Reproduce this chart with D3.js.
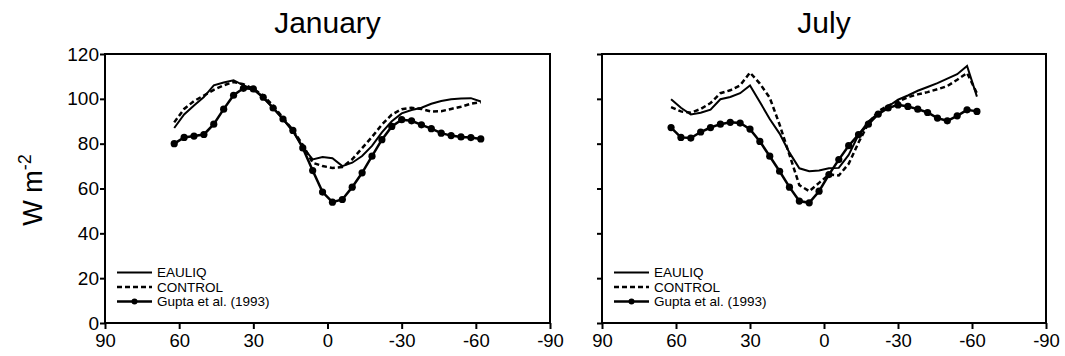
<!DOCTYPE html>
<html><head><meta charset="utf-8">
<script src="https://cdn.jsdelivr.net/npm/d3@7"></script>
<style>body{margin:0;background:#fff}svg{display:block}text{font-family:"Liberation Sans",Arial,Helvetica,sans-serif;fill:#000}</style>
</head><body><svg id="c" width="1065" height="356"></svg>
<script>
const lats = [62,58,54,50,46,42,38,34,30,26,22,18,14,10,6,2,-2,-6,-10,-14,-18,-22,-26,-30,-34,-38,-42,-46,-50,-54,-58,-62];
const xTicks = [90,60,30,0,-30,-60,-90];
const yTicks = [0,20,40,60,80,100,120];
const panelTitles = ["January","July"];
const seriesNames = ["EAULIQ","CONTROL","Gupta et al. (1993)"];

const janEauliq = [87,93,97,100.8,106,107.3,108.3,106,104.3,100.5,96,91,85.5,78.5,73,74,73.5,70,71.5,74.5,79,85,90,93.5,95,96,97.8,99,99.8,100.2,100.3,98.8];
const janControl = [89.5,95.5,99,101.5,104,106,107.5,106.5,104.5,101.5,97,91.5,86,79.5,71.5,70,69.2,69.6,73,78,83,88.5,93,95.4,96,95.5,94.3,94.5,95.5,96.5,97.8,98.5];
const janGupta = [80,82.8,83.4,84.1,88.7,95.4,101.6,104.7,104.4,100.7,95.9,91,85.9,78.1,68,58.4,53.9,55.1,60.6,67,74.4,81.8,87.7,90.7,90.2,88.4,86.7,84.7,83.6,83,82.7,82.1];

const julEauliq = [99.8,96,93,93.8,95.2,99.8,100.8,102.5,106,98.6,91,84.5,76,69,67.7,68,69,69.2,75,84,89.9,93.6,96.6,99.6,101.5,103.6,105.3,107,109,111,114.7,101];
const julControl = [96.3,94.4,93.8,95.5,98.1,102.5,103.8,106,111.7,106.8,100.5,88.5,75,61.5,58.8,62.5,66.2,65.8,71,80.5,89,94.5,97,98.8,100.7,102,103,104.3,105.7,108.5,111.5,102.5];
const julGupta = [87.2,82.8,82.5,85.2,87.2,88.7,89.5,89.2,86.5,81,74.4,67.7,60.6,54.4,53.6,58.8,66.2,72.9,79.1,84,88.7,93.2,95.9,97.3,96.6,95.4,93.9,91.4,90.2,92.4,95.1,94.4];

const svg = d3.select("#c");
const plotTop = 54, plotBottom = 323;
const y = d3.scaleLinear().domain([0,120]).range([plotBottom, plotTop]);
const panels = [
  {title: panelTitles[0], x0: 105, x1: 550, e: janEauliq, c: janControl, g: janGupta},
  {title: panelTitles[1], x0: 602, x1: 1046, e: julEauliq, c: julControl, g: julGupta}
];
const fmt = d => String(d);

panels.forEach((p, pi) => {
  const x = d3.scaleLinear().domain([90,-90]).range([p.x0, p.x1]);
  const g = svg.append("g");
  g.append("rect").attr("x", p.x0).attr("y", plotTop).attr("width", p.x1 - p.x0).attr("height", plotBottom - plotTop)
    .attr("fill", "none").attr("stroke", "#000").attr("stroke-width", 2);
  const xa = g.append("g").attr("transform", `translate(0,${plotBottom})`)
    .call(d3.axisBottom(x).tickValues(xTicks).tickSize(6).tickPadding(5).tickFormat(fmt));
  xa.select(".domain").remove();
  xa.selectAll("line").attr("stroke-width", 2);
  xa.selectAll("text").attr("font-size", 18.5).style("font-family", '"Liberation Sans",Arial,sans-serif');
  const ya = g.append("g").attr("transform", `translate(${p.x0},0)`)
    .call(d3.axisLeft(y).tickValues(yTicks).tickSize(5).tickPadding(1).tickFormat(fmt));
  ya.select(".domain").remove();
  ya.selectAll("line").attr("stroke-width", 2);
  ya.selectAll("text").attr("font-size", 19).style("font-family", '"Liberation Sans",Arial,sans-serif');
  if (pi === 1) ya.selectAll("text").remove();

  g.append("text").attr("x", (p.x0 + p.x1) / 2).attr("y", 33).attr("text-anchor", "middle")
    .attr("font-size", 30).text(p.title);

  const line = d3.line().x((d, i) => x(lats[i])).y(d => y(d));
  g.append("path").datum(p.e).attr("d", line).attr("fill", "none").attr("stroke", "#000").attr("stroke-width", 2);
  g.append("path").datum(p.c).attr("d", line).attr("fill", "none").attr("stroke", "#000").attr("stroke-width", 2.5)
    .attr("stroke-dasharray", "5,3");
  g.append("path").datum(p.g).attr("d", line).attr("fill", "none").attr("stroke", "#000").attr("stroke-width", 2.5);
  g.selectAll("circle.gm").data(p.g).enter().append("circle").attr("class", "gm")
    .attr("cx", (d, i) => x(lats[i])).attr("cy", d => y(d)).attr("r", 3.6).attr("fill", "#000");

  const lx0 = p.x0 + 12, lx1 = p.x0 + 47, tx = p.x0 + 52;
  const rows = [272.5, 287, 301.5];
  const lg = g.append("g");
  lg.append("line").attr("x1", lx0).attr("x2", lx1).attr("y1", rows[0]).attr("y2", rows[0]).attr("stroke", "#000").attr("stroke-width", 2);
  lg.append("line").attr("x1", lx0).attr("x2", lx1).attr("y1", rows[1]).attr("y2", rows[1]).attr("stroke", "#000").attr("stroke-width", 2.5).attr("stroke-dasharray", "5,3");
  lg.append("line").attr("x1", lx0).attr("x2", lx1).attr("y1", rows[2]).attr("y2", rows[2]).attr("stroke", "#000").attr("stroke-width", 2.5);
  lg.append("circle").attr("cx", (lx0 + lx1) / 2).attr("cy", rows[2]).attr("r", 3).attr("fill", "#000");
  seriesNames.forEach((s, i) => {
    lg.append("text").attr("x", tx).attr("y", rows[i]).attr("dy", "0.36em").attr("font-size", 13.5).text(s);
  });
});

const yl = svg.append("text").attr("transform", "translate(42,190) rotate(-90)").attr("text-anchor", "middle").attr("font-size", 27);
yl.append("tspan").text("W m");
yl.append("tspan").attr("dy", -11).attr("font-size", 18).text("-2");
</script>
</body></html>
